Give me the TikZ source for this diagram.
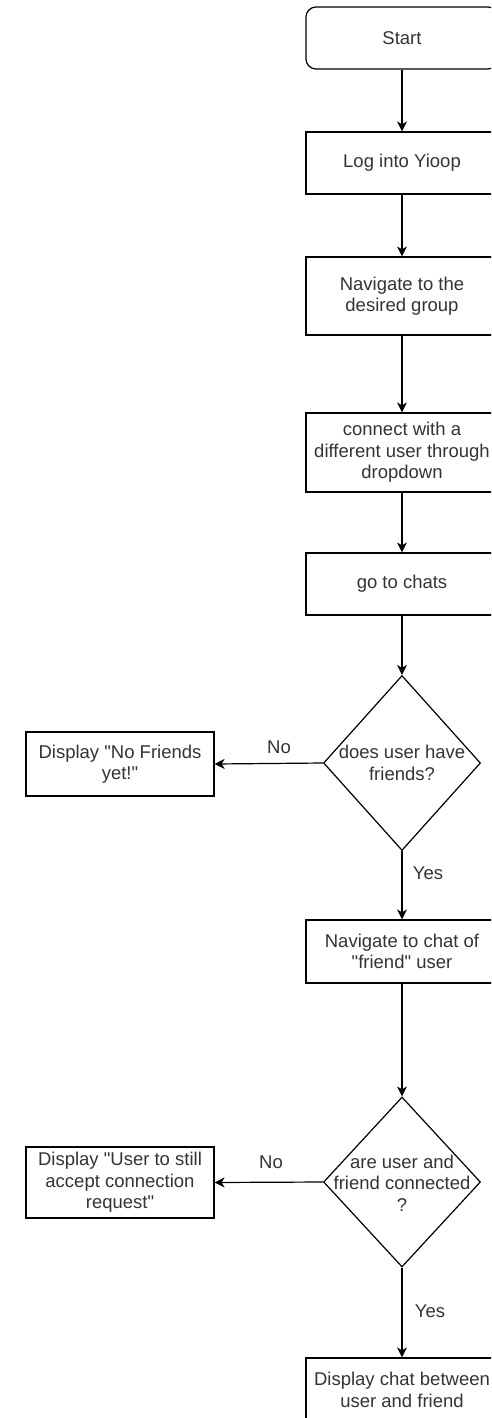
\documentclass[tikz,border=0pt]{standalone}
\usepackage{fontspec}
\setmainfont{Liberation Sans}[Ligatures=TeXOff]
\usetikzlibrary{shapes.geometric,arrows.meta}
\definecolor{txtgray}{RGB}{51,51,51}
\begin{document}
\begin{tikzpicture}[x=1pt,y=-1pt,
  base/.style={line width=1.2pt, inner sep=0pt, align=center, text=txtgray,
    font=\fontsize{18.5}{21.5}\selectfont},
  box/.style={base, draw=black, minimum width=192pt},
  rbox/.style={box, rounded corners=10pt},
  dia/.style={base, draw=black, diamond, minimum width=157pt},
  txt/.style={base},
  lbl/.style={base},
  arr/.style={line width=1.2pt, draw=black, -{Stealth[length=10pt,width=10pt,inset=3pt]}}
]
\useasboundingbox (0,0) rectangle (491,1418);
\clip (0,0) rectangle (491,1418);

\node[rbox, minimum height=62pt] (start) at (402,38) {Start};
\node[box, minimum height=62pt] (log) at (402,163) {Log into Yioop};
\node[box, minimum height=78pt] (nav) at (402,296) {Navigate to the\\desired group};
\node[box, minimum height=79pt] (conn) at (402,452.5) {connect with a\\different user through\\dropdown};
\node[box, minimum height=62pt] (chats) at (402,584) {go to chats};
\node[dia, minimum height=175pt] (d1) at (402,763) {};
\node[txt] (d1t) at (402,763) {does user have\\friends?};
\node[box, minimum width=188pt, minimum height=64pt] (nofr) at (120,764) {Display "No Friends\\yet!"};
\node[box, minimum height=63pt] (navc) at (402,951.5) {Navigate to chat of\\"friend" user};
\node[dia, minimum height=170pt] (d2) at (402,1182) {};
\node[txt] (d2t) at (402,1183) {are user and\\friend connected\\?};
\node[box, minimum width=188pt, minimum height=71pt] (usr) at (120,1182.5) {Display "User to still\\accept connection\\request"};
\node[box, minimum height=64pt] (chat) at (402,1390) {Display chat between\\user and friend};

\draw[arr] (start) -- (log);
\draw[arr] (log) -- (nav);
\draw[arr] (nav) -- (conn);
\draw[arr] (conn) -- (chats);
\draw[arr] (chats) -- (d1.north);
\draw[arr] (d1.west) -- (nofr.east);
\draw[arr] (d1.south) -- (navc);
\draw[arr] (navc) -- (d2.north);
\draw[arr] (d2.west) -- (usr.east);
\draw[arr] (d2.south) -- (chat);

\node[lbl] (no1) at (279,747) {No};
\node[lbl] (yes1) at (428,873) {Yes};
\node[lbl] (no2) at (271,1162) {No};
\node[lbl] (yes2) at (430,1311) {Yes};
\end{tikzpicture}
\end{document}
